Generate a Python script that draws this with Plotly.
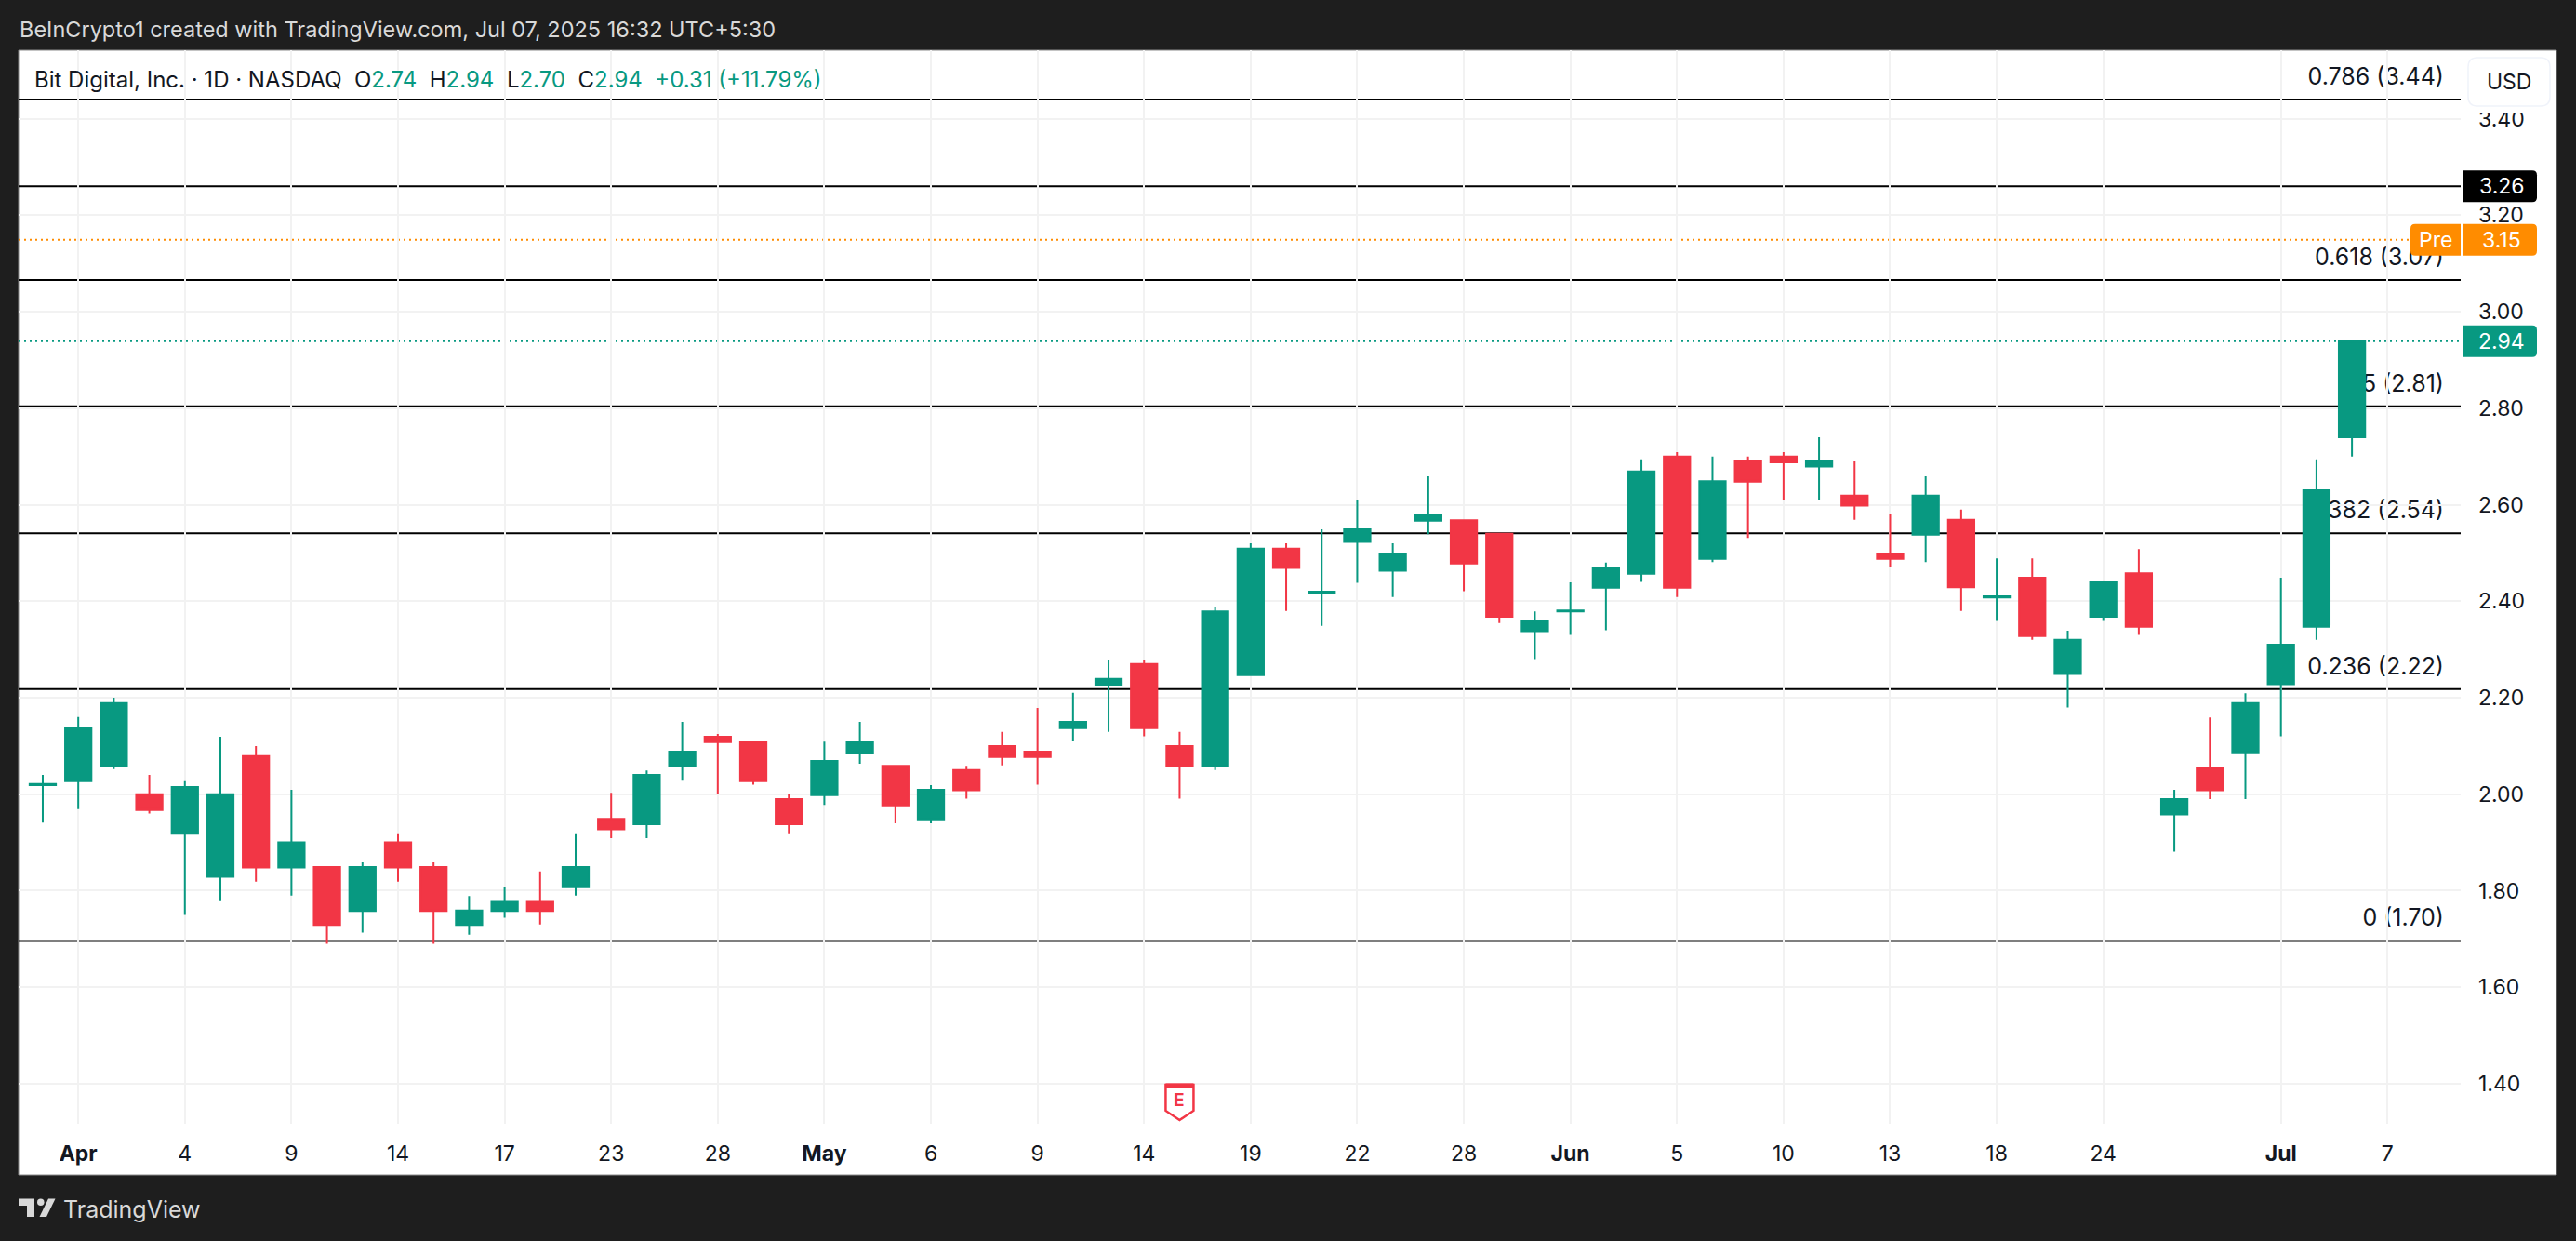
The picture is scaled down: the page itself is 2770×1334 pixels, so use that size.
import plotly.graph_objects as go

W, H = 2770, 1334
PL, PR, PT, PB = 20, 2646, 54, 1208  # plot box in page pixels

bar_index = list(range(66))
open_ = [2.019,2.027,2.058,2.000,1.918,1.829,2.079,1.848,1.849,1.758,1.900,1.849,1.729,1.758,1.779,1.807,
         1.949,1.938,2.058,2.119,2.109,1.990,1.998,2.086,2.059,1.948,2.050,2.100,2.088,2.137,2.227,2.270,
         2.100,2.058,2.247,2.509,2.418,2.523,2.463,2.567,2.568,2.540,2.338,2.379,2.428,2.457,2.700,2.488,
         2.690,2.700,2.679,2.619,2.499,2.538,2.569,2.408,2.449,2.249,2.368,2.458,1.958,2.054,2.087,2.228,2.347,2.74]
high = [2.040,2.160,2.200,2.040,2.029,2.119,2.100,2.009,1.849,1.859,1.919,1.859,1.789,1.808,1.840,1.919,
        2.003,2.049,2.150,2.125,2.109,2.000,2.109,2.150,2.059,2.019,2.059,2.129,2.179,2.210,2.279,2.279,
        2.129,2.389,2.520,2.520,2.549,2.609,2.520,2.659,2.568,2.540,2.379,2.439,2.480,2.694,2.709,2.700,
        2.700,2.709,2.740,2.690,2.580,2.659,2.590,2.489,2.489,2.339,2.439,2.508,2.009,2.159,2.209,2.449,2.694,2.94]
low = [1.941,1.969,2.052,1.960,1.750,1.780,1.819,1.790,1.690,1.713,1.819,1.690,1.709,1.744,1.730,1.790,
       1.909,1.909,2.030,2.000,2.020,1.919,1.978,2.063,1.940,1.940,1.991,2.060,2.020,2.110,2.129,2.120,
       1.991,2.050,2.247,2.380,2.349,2.438,2.409,2.539,2.421,2.355,2.280,2.330,2.340,2.440,2.409,2.481,
       2.531,2.610,2.610,2.569,2.470,2.481,2.380,2.361,2.320,2.180,2.361,2.330,1.881,1.990,1.990,2.120,2.320,2.70]
close = [2.021,2.138,2.189,1.967,2.015,2.000,1.848,1.900,1.729,1.849,1.848,1.758,1.759,1.779,1.758,1.849,
         1.927,2.040,2.088,2.108,2.027,1.938,2.069,2.109,1.977,2.009,2.008,2.077,2.077,2.150,2.239,2.137,
         2.058,2.379,2.509,2.469,2.420,2.549,2.499,2.580,2.478,2.368,2.360,2.381,2.470,2.669,2.428,2.649,
         2.648,2.688,2.690,2.598,2.488,2.619,2.429,2.410,2.328,2.320,2.439,2.347,1.990,2.008,2.189,2.310,2.630,2.94]

x_tick_pos = [1,4,7,10,13,16,19,22,25,28,31,34,37,40,43,46,49,52,55,58,63,66]
x_tick_txt = ["<b>Apr</b>","4","9","14","17","23","28","<b>May</b>","6","9","14","19","22","28",
              "<b>Jun</b>","5","10","13","18","24","<b>Jul</b>","7"]
y_ticks = [1.4,1.6,1.8,2.0,2.2,2.4,2.6,2.8,3.0,3.2,3.4]

fib_levels = [3.44,3.066,2.804,2.541,2.218,1.696]
fib_labels = ["0.786 (3.44)","0.618 (3.07)","0.5 (2.81)","0.382 (2.54)","0.236 (2.22)","0 (1.70)"]
extra_level = 3.26
pre_price = 3.149
last_price = 2.939
earnings_bar = 32

GREEN, RED, ORANGE = "#089981", "#F23645", "#FF8C00"
INK = "#131722"
FONT = "Inter"
DARK = "#1E1E1E"
XR = [-0.68, 68.06]
YR = [3.542 - (PB-PT)/518.65, 3.542]
LABEL_END = XR[0] + (2628-PL)/(PR-PL)*(XR[1]-XR[0])

def px(X): return (X-PL)/(PR-PL)
def py(Y): return (PB-Y)/(PB-PT)

fig = go.Figure(go.Candlestick(
    x=bar_index, open=open_, high=high, low=low, close=close,
    increasing=dict(line=dict(color=GREEN, width=2), fillcolor=GREEN),
    decreasing=dict(line=dict(color=RED, width=2), fillcolor=RED),
    whiskerwidth=0, showlegend=False, hoverinfo="skip"))

shapes = []
# white panel with thin border
shapes.append(dict(type="rect", xref="paper", yref="paper", x0=px(20), x1=px(2749), y0=py(54), y1=py(1263),
                   layer="below", fillcolor="white", line=dict(color="#8A8A8A", width=1)))
# Fibonacci lines, with labels on separate invisible lines so they stop short of the edge
for lv, lb in zip(fib_levels, fib_labels):
    shapes.append(dict(type="line", xref="x", yref="y", x0=XR[0], x1=XR[1], y0=lv, y1=lv, layer="below",
                       line=dict(color="black", width=2)))
    shapes.append(dict(type="line", xref="x", yref="y", x0=XR[0], x1=LABEL_END, y0=lv, y1=lv, layer="below",
                       line=dict(color="rgba(0,0,0,0)", width=0),
                       label=dict(text=lb, textposition="end", xanchor="right", yanchor="bottom", padding=11,
                                  font=dict(family=FONT, size=25, color=INK))))
shapes.append(dict(type="line", xref="x", yref="y", x0=XR[0], x1=XR[1], y0=extra_level, y1=extra_level,
                   layer="below", line=dict(color="black", width=2)))
for lv, col in ((pre_price, ORANGE), (last_price, GREEN)):
    shapes.append(dict(type="line", xref="x", yref="y", x0=XR[0], x1=XR[1], y0=lv, y1=lv, layer="below",
                       line=dict(color=col, width=2, dash="2px,4px")))

def tag(level, x0, x1, color, rl=0, rr=5, h=17):
    # x0/x1 are page pixels; drawn relative to right plot edge
    a, b = x0-PR, x1-PR
    p = (f"M{a+rl},{h} L{b-rr},{h} Q{b},{h} {b},{h-rr} L{b},{-h+rr} Q{b},{-h} {b-rr},{-h} "
         f"L{a+rl},{-h} Q{a},{-h} {a},{-h+rl} L{a},{h-rl} Q{a},{h} {a+rl},{h} Z")
    return dict(type="path", xref="paper", xsizemode="pixel", xanchor=1, yref="y", ysizemode="pixel",
                yanchor=level, path=p, fillcolor=color, line=dict(width=0), layer="above")

shapes += [tag(extra_level, 2648, 2728, "black"),
           tag(pre_price, 2648, 2728, ORANGE),
           tag(pre_price, 2592, 2646, ORANGE, rl=5, rr=0.01),
           tag(last_price, 2648, 2728, GREEN)]

# white mask that clips the top of the 3.40 label, then the USD button
shapes.append(dict(type="rect", xref="paper", yref="paper", layer="above", fillcolor="white", line=dict(width=0),
                   x0=px(2648), x1=px(2746), y0=py(56), y1=py(122)))
a, b, c, d = px(2654), px(2742), py(62), py(114)
rx, ry = 10/(PR-PL), 10/(PB-PT)
shapes.append(dict(type="path", xref="paper", yref="paper", layer="above", fillcolor="white",
                   line=dict(color="#F0F3FA", width=1.5),
                   path=(f"M{a+rx},{c} L{b-rx},{c} Q{b},{c} {b},{c-ry} L{b},{d+ry} Q{b},{d} {b-rx},{d} "
                         f"L{a+rx},{d} Q{a},{d} {a},{d+ry} L{a},{c-ry} Q{a},{c} {a+rx},{c} Z")))

# Earnings pin
shapes.append(dict(type="path", xref="x", xsizemode="pixel", xanchor=earnings_bar, yref="y", ysizemode="pixel",
                   yanchor=1.4, layer="above", fillcolor="white", line=dict(color=RED, width=2.5),
                   path="M-15,-1 L15,-1 L15,-29 L0,-39 L-15,-29 Z"))
shapes.append(dict(type="line", xref="x", xsizemode="pixel", xanchor=earnings_bar, yref="y", ysizemode="pixel",
                   yanchor=1.4, layer="above", x0=-15, x1=15, y0=-2, y1=-2, line=dict(color=RED, width=5)))

# TradingView logo
def logo(pts):
    return dict(type="path", xref="paper", yref="paper", layer="above", fillcolor="#D9D9D9", line=dict(width=0),
                path="M"+" L".join(f"{px(x)},{py(y)}" for x, y in pts)+" Z")
shapes += [logo([(20,1288.5),(37,1288.5),(37,1308),(29,1308),(29,1296),(20,1296)]),
           logo([(52,1288.5),(59.5,1288.5),(50,1308),(42.5,1308)]),
           dict(type="circle", xref="paper", yref="paper", layer="above", fillcolor="#D9D9D9", line=dict(width=0),
                x0=px(40), x1=px(47.5), y0=py(1288.5), y1=py(1296))]

def note(text, X, Y, size=23, color=INK, anchor="left"):
    return dict(text=text, xref="paper", yref="paper", x=px(X), y=py(Y), xanchor=anchor, yanchor="middle",
                showarrow=False, font=dict(family=FONT, size=size, color=color), borderpad=0)

def level_note(text, X, level, color="white"):
    return dict(text=text, xref="paper", yref="y", x=px(X), y=level, xanchor="center", yanchor="middle",
                showarrow=False, font=dict(family=FONT, size=23, color=color), borderpad=0)

g = lambda s: f'<span style="color:{GREEN}">{s}</span>'
legend_txt = ("Bit Digital, Inc. · 1D · NASDAQ\u00a0\u00a0O" + g("2.74") + "\u00a0\u00a0H" + g("2.94") +
              "\u00a0\u00a0L" + g("2.70") + "\u00a0\u00a0C" + g("2.94") + "\u00a0\u00a0" + g("+0.31 (+11.79%)"))

annotations = [
    note("BeInCrypto1 created with TradingView.com, Jul 07, 2025 16:32 UTC+5:30", 20, 32, size=23.5, color="#D9D9D9"),
    note(legend_txt, 36, 85, size=24),
    note("USD", 2698, 88, size=23, anchor="center"),
    note("TradingView", 67, 1300, size=25, color="#D9D9D9"),
    level_note("3.26", 2690, extra_level),
    level_note("3.15", 2690, pre_price),
    level_note("Pre", 2619, pre_price),
    level_note("2.94", 2690, last_price),
    dict(text="<b>E</b>", xref="x", yref="y", x=earnings_bar, y=1.4, yshift=-18, showarrow=False, xanchor="center",
         yanchor="middle", font=dict(family=FONT, size=19, color=RED), borderpad=0),
]

fig.update_layout(
    width=W, height=H, autosize=False,
    margin=dict(l=PL, r=W-PR, t=PT, b=H-PB, pad=0),
    paper_bgcolor=DARK, plot_bgcolor="white",
    font=dict(family=FONT, size=23, color=INK),
    showlegend=False, boxgap=0.26, boxgroupgap=0, shapes=shapes, annotations=annotations,
    xaxis=dict(range=XR, tickmode="array", tickvals=x_tick_pos, ticktext=x_tick_txt, showgrid=True,
               gridcolor="#F2F2F2", gridwidth=2, zeroline=False, showline=False, ticks="",
               rangeslider=dict(visible=False), ticklabelstandoff=16, tickfont=dict(family=FONT, size=23, color=INK)),
    yaxis=dict(range=YR, side="right", tickmode="array", tickvals=y_ticks, ticktext=[f"{v:.2f}" for v in y_ticks],
               showgrid=True, gridcolor="#F2F2F2", gridwidth=2, zeroline=False, showline=False, ticks="",
               ticklabelstandoff=18, tickfont=dict(family=FONT, size=23, color=INK)),
)

fig.write_html("out.html", config=dict(displayModeBar=False),
               post_script="document.body.style.margin='0';document.body.style.overflow='hidden';document.body.style.background='#1E1E1E';")
